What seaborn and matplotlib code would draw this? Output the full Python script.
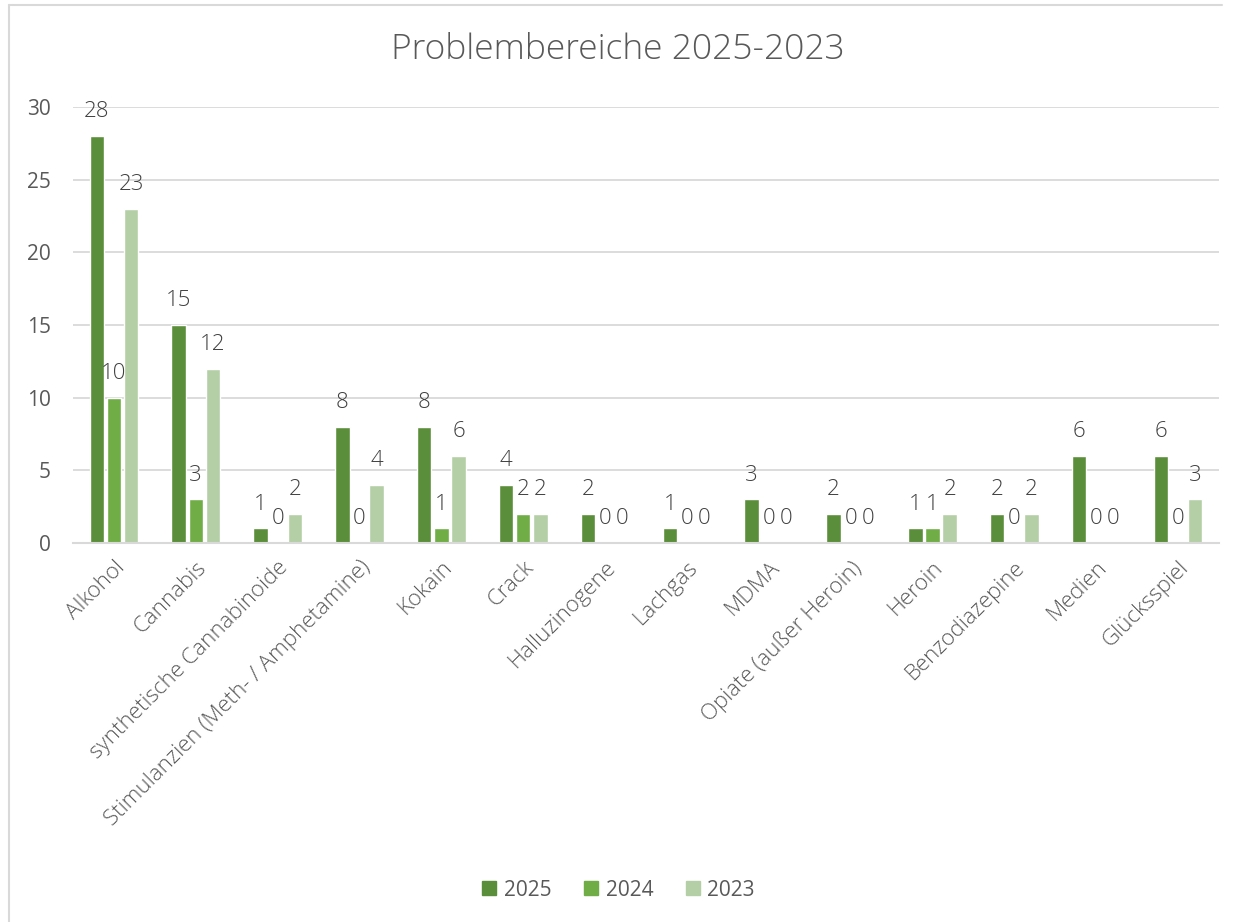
import matplotlib
matplotlib.use("Agg")
import matplotlib.pyplot as plt
import seaborn as sns
import pandas as pd
from matplotlib.lines import Line2D

categories = ["Alkohol", "Cannabis", "synthetische Cannabinoide",
              "Stimulanzien (Meth- / Amphetamine)", "Kokain", "Crack",
              "Halluzinogene", "Lachgas", "MDMA", "Opiate (außer Heroin)",
              "Heroin", "Benzodiazepine", "Medien", "Glücksspiel"]
years = ["2025", "2024", "2023"]
v2025 = [28, 15, 1, 8, 8, 4, 2, 1, 3, 2, 1, 2, 6, 6]
v2024 = [10, 3, 0, 0, 1, 2, 0, 0, 0, 0, 1, 0, 0, 0]
v2023 = [23, 12, 2, 4, 6, 2, 0, 0, 0, 0, 2, 2, 0, 3]
colors = ["#5B8E3B", "#70AD47", "#B4CFA6"]

rows = []
for y, vals in zip(years, [v2025, v2024, v2023]):
    for c, v in zip(categories, vals):
        rows.append({"cat": c, "year": y, "value": v})
df = pd.DataFrame(rows)

sns.set_theme(style="white")
plt.rcParams["font.family"] = ["Open Sans", "DejaVu Sans"]
text_col = "#595959"

fig = plt.figure(figsize=(12.36, 9.22), dpi=100)
ax = fig.add_axes([73/1236, 1-543/922, (1219-73)/1236, (543-107)/922])

sns.barplot(data=df, x="cat", y="value", hue="year", hue_order=years,
            order=categories, palette=colors, width=0.63, gap=0.16,
            saturation=1, ax=ax, legend=False)

ax.set_ylim(0, 30)
ax.set_yticks(range(0, 31, 5))
ax.yaxis.grid(True, color="#D9D9D9", linewidth=1.3)
ax.set_axisbelow(True)
for s in ["top", "right", "left"]:
    ax.spines[s].set_visible(False)
ax.spines["bottom"].set_color("#D9D9D9")
ax.spines["bottom"].set_linewidth(1.5)
ax.set_xlabel("")
ax.set_ylabel("")
ax.tick_params(axis="y", labelsize=15, colors=text_col, length=0, pad=16)
ax.tick_params(axis="x", labelsize=16, colors=text_col, length=0, pad=10)
plt.setp(ax.get_xticklabels(), rotation=45, ha="right", rotation_mode="anchor",
         fontweight="light")

for cont in ax.containers:
    ax.bar_label(cont, fmt="%d", padding=10, fontsize=16, color="#404040",
                 fontweight="light")

fig.text(0.5, 1-50/922, "Problembereiche 2025-2023", ha="center", va="center",
         fontsize=25.5, color=text_col, fontweight="light")

handles = [Line2D([0], [0], marker="s", linestyle="none", markersize=10,
                  markerfacecolor=c, markeredgecolor=c) for c in colors]
fig.legend(handles, years, loc="center", bbox_to_anchor=(0.5, 1-890/922),
           ncol=3, frameon=False, fontsize=15, labelcolor=text_col,
           handlelength=0.8, handletextpad=0.3, columnspacing=1.5)

# outer chart frame (left and top edges)
fig.add_artist(Line2D([9/1236, 9/1236], [0, 1-5/922], transform=fig.transFigure,
                      color="#D9D9D9", linewidth=1.5))
fig.add_artist(Line2D([9/1236, 1222/1236], [1-5/922, 1-5/922], transform=fig.transFigure,
                      color="#D9D9D9", linewidth=1.5))

fig.savefig("out.png", dpi=100, facecolor="white")
